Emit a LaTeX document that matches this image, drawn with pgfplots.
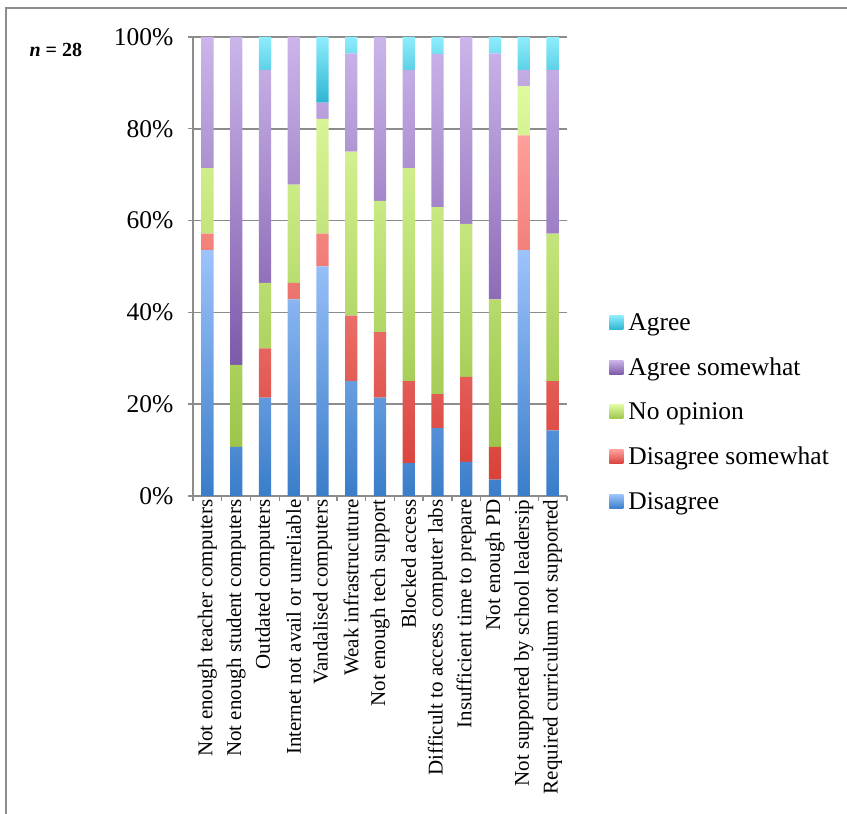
\documentclass[border=0pt]{standalone}
\usepackage{fontspec}
\setmainfont{Liberation Serif}
\usepackage{pgfplots}
\pgfplotsset{compat=1.18}
\usepackage{pgfplotstable}

% gradient end colours for each response
\definecolor{disT}{HTML}{9DC3FB}\definecolor{disB}{HTML}{3A7DC9}
\definecolor{dsT}{HTML}{FF9F9B}\definecolor{dsB}{HTML}{D8413A}
\definecolor{noT}{HTML}{DEFA9E}\definecolor{noB}{HTML}{9CC54A}
\definecolor{asT}{HTML}{CBB5EA}\definecolor{asB}{HTML}{7E5AAA}
\definecolor{agT}{HTML}{8EEDFC}\definecolor{agB}{HTML}{2DB5D3}
\definecolor{axisgray}{HTML}{8C8C8C}

% percentages of respondents per barrier
\pgfplotstableread{
x   dis    ds     no     as     ag
0   53.57  3.57   14.29  28.57  0
1   10.71  0      17.86  71.43  0
2   21.43  10.71  14.29  46.43  7.14
3   42.86  3.57   21.43  32.14  0
4   50.00  7.14   25.00  3.57   14.29
5   25.00  14.29  35.71  21.43  3.57
6   21.43  14.29  28.57  35.71  0
7   7.14   17.86  46.43  21.43  7.14
8   14.81  7.41   40.74  33.33  3.70
9   7.41   18.52  33.33  40.74  0
10  3.57   7.14   32.14  53.57  3.57
11  53.57  25.00  10.71  3.57   7.14
12  14.29  10.71  32.14  35.71  7.14
}\barriers

\begin{document}
\begin{tikzpicture}
\path[use as bounding box] (0,0) rectangle (847pt,814pt);
\draw[axisgray, line width=1.6pt] (6pt,-2pt) -- (6pt,806pt) -- (849pt,806pt);
\node[font=\bfseries\fontsize{20}{20}\selectfont, anchor=base west] at (26pt,757pt) {\textit{n} = 28};

\begin{axis}[
  at={(193pt,318pt)}, anchor=south west,
  scale only axis, width=374pt, height=459pt,
  ybar stacked, bar width=12.3pt,
  xmin=-0.5, xmax=12.5, ymin=0, ymax=100,
  axis x line*=bottom, axis y line*=left,
  axis line style={axisgray, line width=1.6pt},
  tick style={axisgray, line width=1.4pt},
  tick align=outside, major tick length=5pt,
  ytick={0,20,...,100},
  ymajorgrids, grid style={axisgray, line width=1.6pt},
  /pgf/number format/assume math mode=true,
  yticklabel={\pgfmathprintnumber{\tick}\%},
  yticklabel style={font=\fontsize{25.5}{25.5}\selectfont, xshift=-11pt},
  xtick={-0.5,0.5,...,12.5}, xticklabels={},
  extra x ticks={0,...,12},
  extra x tick style={major tick length=0pt},
  extra x tick labels={Not enough teacher computers, Not enough student computers, Outdated computers, Internet not avail or unreliable, Vandalised computers, Weak infrastrucuture, Not enough tech support, Blocked access, Difficult to access computer labs, Insufficient time to prepare, Not enough PD, Not supported by school leadersip, Required curriculum not supported},
  xticklabel style={rotate=90, anchor=east, font=\fontsize{21}{21}\selectfont},
  reverse legend,
  legend cell align=left,
  legend style={draw=none, fill=none, at={(1.105,0.183)}, anchor=west,
    font=\fontsize{25.5}{25.5}\selectfont, row sep=22pt,
    /tikz/every odd column/.append style={column sep=3pt}},
  every axis plot/.append style={draw=none,
    legend image code/.code={\path[##1] (0pt,-7pt) rectangle (14pt,7pt);}},
]
\addplot[top color=disT, bottom color=disB] table[x=x, y=dis] {\barriers};
\addplot[top color=dsT, bottom color=dsB] table[x=x, y=ds] {\barriers};
\addplot[top color=noT, bottom color=noB] table[x=x, y=no] {\barriers};
\addplot[top color=asT, bottom color=asB] table[x=x, y=as] {\barriers};
\addplot[top color=agT, bottom color=agB] table[x=x, y=ag] {\barriers};
\legend{Disagree, Disagree somewhat, No opinion, Agree somewhat, Agree}
\end{axis}
\end{tikzpicture}
\end{document}
